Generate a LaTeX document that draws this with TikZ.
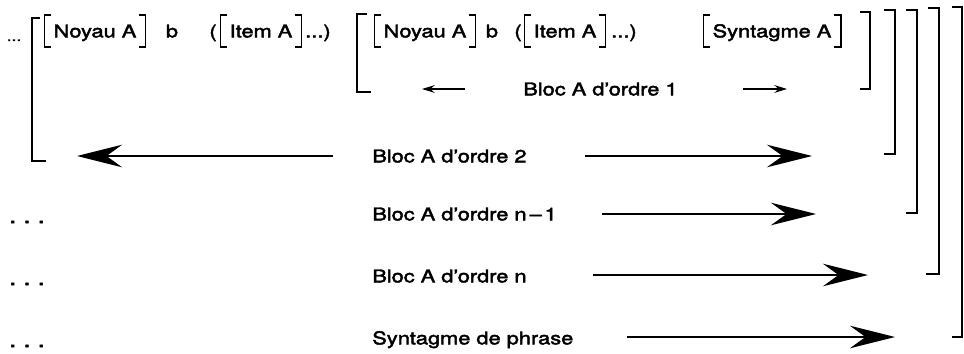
\documentclass[tikz,border=0pt]{standalone}
\usepackage{fontspec}
\setmainfont[FakeStretch=1.24, FakeBold=2.5]{TeX Gyre Heros}
\usetikzlibrary{arrows.meta}

\tikzset{
    lbl/.style={inner sep=0pt, text height=9pt, text depth=0pt, font=\fontsize{12.5}{15}\selectfont},
    brkbox/.style={lbl, inner xsep=6.4pt, inner ysep=6.5pt},
    inbrk/.style={line width=1.2pt},
    outbrk/.style={line width=1.7pt},
    petite/.style={line width=1pt, -{Stealth[length=9pt,width=5.5pt,inset=3pt]}},
    grande/.style={line width=2pt, -{Stealth[length=32pt,width=16pt,inset=11pt]}}
}

\newcommand{\crochets}[1]{
    \draw[inbrk] ([xshift=5pt]#1.north west) -- (#1.north west) -- (#1.south west) -- ([xshift=5pt]#1.south west);
    \draw[inbrk] ([xshift=-5pt]#1.north east) -- (#1.north east) -- (#1.south east) -- ([xshift=-5pt]#1.south east);
}

\begin{document}
\begin{tikzpicture}[x=0.025cm, y=-0.025cm]
    \useasboundingbox (0,0) rectangle (964,354);

    \node[lbl, anchor=base, font=\fontsize{10}{12}\selectfont] (pts0) at (14,41) {...};
    \node[brkbox] (noyau1) at (95,31) {Noyau A};
    \node[lbl] (b1) at (172,31) {b};
    \node[lbl] (par1) at (213,31) {(};
    \node[brkbox] (item1) at (261,31) {Item A};
    \node[lbl] (susp1) at (318,31) {...)};

    \node[brkbox] (noyau2) at (425,31) {Noyau A};
    \node[lbl] (b2) at (492,31) {b};
    \node[lbl] (par2) at (518,31) {(};
    \node[brkbox] (item2) at (565,31) {Item A};
    \node[lbl] (susp2) at (624,31) {...)};
    \node[brkbox] (syntA) at (772,31) {Syntagme A};

    \crochets{noyau1}
    \crochets{item1}
    \crochets{noyau2}
    \crochets{item2}
    \crochets{syntA}

    \node[lbl, anchor=west] (ordre1) at (523,89) {Bloc A d’ordre 1};
    \node[lbl, anchor=west] (ordre2) at (372,156) {Bloc A d’ordre 2};
    \node[lbl, anchor=west] (ordreNm) at (372,214) {Bloc A d’ordre n\,–\,1};
    \node[lbl, anchor=west] (ordreN) at (372,276) {Bloc A d’ordre n};
    \node[lbl, anchor=west] (phrase) at (372,338) {Syntagme de phrase};

    \node[lbl, anchor=base, font=\fontsize{15}{18}\selectfont] (pts3) at (27,223) {.\,\,.\,\,.};
    \node[lbl, anchor=base, font=\fontsize{15}{18}\selectfont] (pts4) at (27,285) {.\,\,.\,\,.};
    \node[lbl, anchor=base, font=\fontsize{15}{18}\selectfont] (pts5) at (27,347) {.\,\,.\,\,.};

    \draw[outbrk] (40,18) -| (32,161) -- (46,161);
    \draw[outbrk] (367,14) -| (357,92) -- (371,92);
    \draw[outbrk] (860,12) -| (870,89) -- (860,89);
    \draw[outbrk] (884,10) -| (895,154) -- (884,154);
    \draw[outbrk] (906,10) -| (917,213) -- (906,213);
    \draw[outbrk] (928,8) -| (939,274) -- (926,274);
    \draw[outbrk] (952,7) -| (962,337) -- (952,337);

    \coordinate (g1a) at (465,89);
    \coordinate (g1b) at (422,89);
    \coordinate (d1a) at (743,89);
    \coordinate (d1b) at (787,89);
    \coordinate (g2a) at (333,156);
    \coordinate (g2b) at (77,156);
    \coordinate (d2a) at (585,156);
    \coordinate (d2b) at (812,156);
    \coordinate (d3a) at (602,214);
    \coordinate (d3b) at (816,214);
    \coordinate (d4a) at (593,275);
    \coordinate (d4b) at (868,275);
    \coordinate (d5a) at (627,337);
    \coordinate (d5b) at (895,337);

    \draw[petite] (g1a) -- (g1b);
    \draw[petite] (d1a) -- (d1b);
    \draw[grande] (g2a) -- (g2b);
    \draw[grande] (d2a) -- (d2b);
    \draw[grande] (d3a) -- (d3b);
    \draw[grande] (d4a) -- (d4b);
    \draw[grande] (d5a) -- (d5b);
\end{tikzpicture}
\end{document}
